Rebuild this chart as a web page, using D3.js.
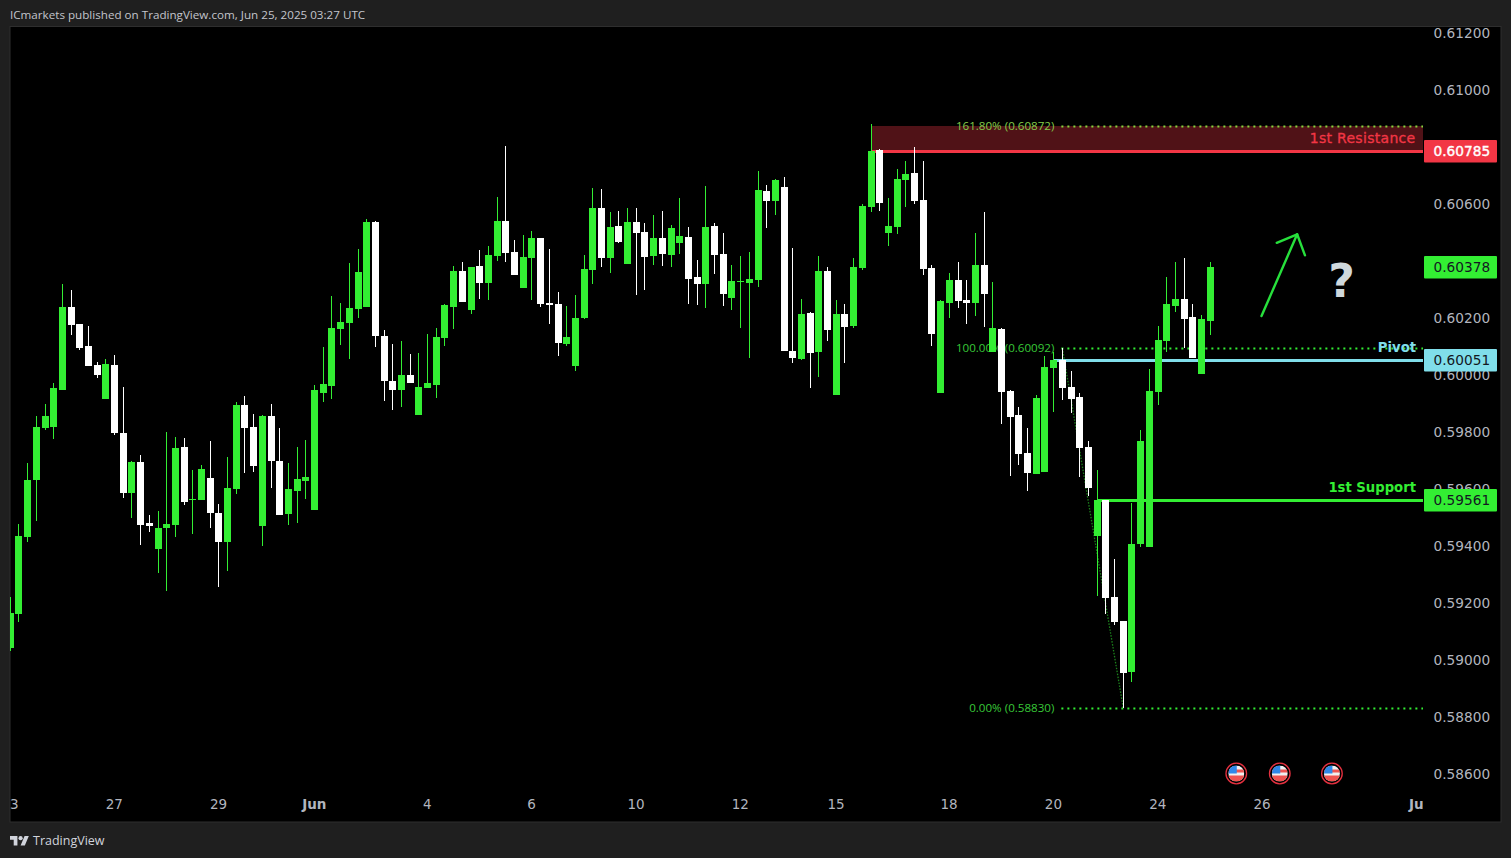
<!DOCTYPE html>
<html>
<head>
<meta charset="utf-8">
<script src="https://cdn.jsdelivr.net/npm/d3@7/dist/d3.min.js"></script>
<style>
html,body{margin:0;padding:0;background:#1f1f1f;overflow:hidden}
svg{display:block}
text{font-family:"DejaVu Sans",sans-serif}
</style>
</head>
<body>
<svg id="c" width="1511" height="858"></svg>
<script>
const opens=[0.59040,0.59160,0.59430,0.59630,0.59812,0.59816,0.59946,0.60237,0.60177,0.60100,0.60033,0.59914,0.60033,0.59795,0.59584,0.59693,0.59479,0.59388,0.59461,0.59472,0.59746,0.59560,0.59560,0.59637,0.59514,0.59412,0.59598,0.59893,0.59816,0.59468,0.59854,0.59696,0.59511,0.59591,0.59626,0.59525,0.59935,0.59960,0.60160,0.60181,0.60230,0.60237,0.60535,0.60135,0.59977,0.59946,0.59998,0.59858,0.59953,0.59963,0.60128,0.60237,0.60363,0.60226,0.60381,0.60321,0.60416,0.60539,0.60430,0.60304,0.60409,0.60479,0.60251,0.60247,0.60107,0.60030,0.60198,0.60367,0.60584,0.60409,0.60521,0.60388,0.60535,0.60500,0.60416,0.60479,0.60419,0.60461,0.60482,0.60342,0.60318,0.60521,0.60423,0.60268,0.60325,0.60321,0.60332,0.60644,0.60609,0.60658,0.60082,0.60054,0.60216,0.60079,0.60363,0.59928,0.60212,0.60170,0.60374,0.60588,0.60788,0.60496,0.60518,0.60682,0.60707,0.60612,0.60374,0.59935,0.60251,0.60332,0.60261,0.60251,0.60384,0.60079,0.60160,0.59942,0.59858,0.59725,0.59651,0.59658,0.60023,0.60051,0.59956,0.59921,0.59746,0.59433,0.59560,0.59219,0.59135,0.58956,0.59405,0.59395,0.59939,0.60118,0.60240,0.60265,0.60202,0.60002,0.60188];
const highs=[0.59219,0.59475,0.59689,0.59854,0.59896,0.59970,0.60318,0.60297,0.60177,0.60170,0.60044,0.60054,0.60068,0.59956,0.59696,0.59718,0.59507,0.59521,0.59798,0.59781,0.59777,0.59665,0.59682,0.59767,0.59546,0.59710,0.59904,0.59925,0.59861,0.59858,0.59896,0.59812,0.59689,0.59746,0.59770,0.59963,0.60096,0.60276,0.60251,0.60392,0.60440,0.60546,0.60539,0.60156,0.60107,0.60118,0.60072,0.60075,0.60142,0.60163,0.60247,0.60381,0.60395,0.60377,0.60437,0.60451,0.60623,0.60802,0.60472,0.60489,0.60503,0.60479,0.60440,0.60289,0.60240,0.60279,0.60419,0.60654,0.60651,0.60570,0.60574,0.60584,0.60584,0.60532,0.60560,0.60574,0.60525,0.60619,0.60518,0.60402,0.60661,0.60532,0.60496,0.60384,0.60416,0.60430,0.60714,0.60665,0.60686,0.60693,0.60444,0.60265,0.60219,0.60416,0.60377,0.60261,0.60247,0.60409,0.60598,0.60879,0.60791,0.60619,0.60721,0.60749,0.60798,0.60749,0.60384,0.60261,0.60356,0.60395,0.60332,0.60496,0.60570,0.60325,0.60163,0.59946,0.59886,0.59812,0.59928,0.60065,0.60079,0.60093,0.60012,0.59935,0.59767,0.59665,0.59560,0.59353,0.59135,0.59549,0.59805,0.60019,0.60170,0.60342,0.60395,0.60409,0.60247,0.60209,0.60395];
const lows=[0.59030,0.59132,0.59412,0.59486,0.59805,0.59774,0.59946,0.60139,0.60086,0.60030,0.59988,0.59914,0.59788,0.59567,0.59496,0.59402,0.59447,0.59303,0.59240,0.59430,0.59542,0.59440,0.59560,0.59461,0.59254,0.59310,0.59581,0.59654,0.59658,0.59398,0.59602,0.59507,0.59472,0.59479,0.59563,0.59525,0.59904,0.59914,0.60104,0.60054,0.60198,0.60237,0.60096,0.59907,0.59875,0.59886,0.59970,0.59858,0.59953,0.59918,0.60100,0.60160,0.60254,0.60212,0.60265,0.60261,0.60398,0.60395,0.60349,0.60304,0.60261,0.60237,0.60177,0.60065,0.60100,0.60012,0.60195,0.60318,0.60377,0.60356,0.60461,0.60388,0.60279,0.60297,0.60384,0.60381,0.60377,0.60423,0.60247,0.60244,0.60233,0.60353,0.60240,0.60226,0.60163,0.60058,0.60307,0.60514,0.60560,0.60082,0.60040,0.60051,0.59953,0.59991,0.60118,0.59928,0.60040,0.60163,0.60367,0.60570,0.60574,0.60451,0.60493,0.60588,0.60598,0.60349,0.60100,0.59935,0.60198,0.60233,0.60177,0.60205,0.60167,0.60079,0.59826,0.59644,0.59682,0.59591,0.59651,0.59658,0.59868,0.59911,0.59865,0.59640,0.59574,0.59223,0.59160,0.59121,0.58830,0.58921,0.59395,0.59395,0.59893,0.60079,0.60219,0.60093,0.60058,0.60002,0.60139];
const closes=[0.59163,0.59433,0.59630,0.59816,0.59854,0.59953,0.60237,0.60174,0.60093,0.60030,0.59998,0.60037,0.59795,0.59584,0.59693,0.59472,0.59468,0.59461,0.59475,0.59742,0.59553,0.59563,0.59668,0.59514,0.59412,0.59602,0.59893,0.59812,0.59679,0.59854,0.59696,0.59507,0.59598,0.59633,0.59640,0.59946,0.59967,0.60163,0.60184,0.60233,0.60360,0.60535,0.60135,0.59977,0.59946,0.59998,0.59970,0.59956,0.59970,0.60132,0.60244,0.60363,0.60254,0.60377,0.60321,0.60419,0.60539,0.60426,0.60349,0.60412,0.60479,0.60247,0.60244,0.60111,0.60132,0.60198,0.60370,0.60584,0.60409,0.60518,0.60465,0.60535,0.60496,0.60412,0.60479,0.60423,0.60514,0.60486,0.60335,0.60318,0.60518,0.60419,0.60283,0.60328,0.60328,0.60335,0.60647,0.60609,0.60682,0.60082,0.60058,0.60212,0.60075,0.60363,0.60156,0.60212,0.60167,0.60377,0.60591,0.60784,0.60602,0.60521,0.60686,0.60704,0.60609,0.60370,0.60142,0.60258,0.60332,0.60258,0.60251,0.60384,0.60283,0.60163,0.59939,0.59851,0.59721,0.59654,0.59918,0.60026,0.60051,0.59953,0.59914,0.59742,0.59602,0.59560,0.59216,0.59132,0.58953,0.59405,0.59767,0.59942,0.60121,0.60247,0.60265,0.60195,0.60058,0.60195,0.60378];

const priceTicks=[0.612,0.610,0.606,0.604,0.602,0.600,0.598,0.596,0.594,0.592,0.590,0.588,0.586];
const timeTickBars=[0,12,24,35,48,60,72,84,95,108,120,132,144,162];
const timeTickLabels=["23","27","29","Jun","4","6","10","12","15","18","20","24","26","Jul"];
const boldTimeLabels=["Jun","Jul"];

const resistance=0.60785, pivot=0.60051, support=0.59561, lastPrice=0.60378;
const resistanceStartBar=99, pivotStartBar=120, supportStartBar=125;
const fibLevels=[0.60872,0.60092,0.58830];
const fibLabels=["161.80% (0.60872)","100.00% (0.60092)","0.00% (0.58830)"];
const fibAnchorBars=[121,128];
const fibAnchorPrices=[0.60092,0.58830];
const arrowShaft=[[143.9,0.60205],[148.0,0.60492]];
const arrowHead=[[145.65,0.60462],[148.0,0.60492],[148.9,0.60418]];
const questionAt=[153.1,0.60272];
const eventBars=[141,146,152];
const eventPrice=0.58600;
const levelTexts=["1st Resistance","Pivot","1st Support"];

const GREEN="#33ee33",WHITE="#ffffff",RED="#f23645",CYAN="#80deea",GREY="#b2b5be",BG="#1f1f1f";
const L=10,R=1423,AX=1501,T=27,B=822;

const svg=d3.select("#c");
svg.append("rect").attr("width",1511).attr("height",858).attr("fill",BG);
svg.append("rect").attr("x",L).attr("y",T-0.5).attr("width",AX-L).attr("height",B-T+0.5).attr("fill","#000").attr("stroke","#2e2e2e");

const defs=svg.append("defs");
defs.append("clipPath").attr("id","plot").append("rect").attr("x",L).attr("y",T).attr("width",R-L).attr("height",B-T);
defs.append("clipPath").attr("id","flagClip").append("circle").attr("r",8);

const x=d3.scaleLinear().domain([0,162]).range([10.22,10.22+162*8.6955]);
const y=d3.scaleLinear().domain([0.612,0.586]).range([32.5,773.5]);

// headline
svg.append("text").attr("x",10).attr("y",19).attr("fill","#c3c5cc").style("font-family","'Open Sans'").style("font-size","11.65px").text("ICmarkets published on TradingView.com, Jun 25, 2025 03:27 UTC");

// price axis
const yAxis=d3.axisRight(y).tickValues(priceTicks).tickSize(0).tickPadding(0).tickFormat(d3.format(".5f"));
const gy=svg.append("g").attr("transform",`translate(1433.5,0.8)`).call(yAxis);
gy.select(".domain").remove();
gy.selectAll("text").attr("fill",GREY).style("font-size","13.7px").attr("dy","0.33em");

// plot layer
const plot=svg.append("g").attr("clip-path","url(#plot)");

// time axis
const xAxis=d3.axisBottom(x).tickValues(timeTickBars).tickSize(0).tickPadding(0).tickFormat((d,i)=>timeTickLabels[i]);
const gx=plot.append("g").attr("transform","translate(-0.8,799.5)").call(xAxis);
gx.select(".domain").remove();
gx.selectAll("text").attr("fill",GREY).attr("dy","0.71em").style("font-size","13.5px")
  .style("font-weight",function(){return boldTimeLabels.includes(this.textContent)?"700":"400"});

// resistance zone
plot.append("rect").attr("x",x(resistanceStartBar)).attr("y",y(fibLevels[0])).attr("width",R-x(resistanceStartBar))
  .attr("height",y(resistance)-y(fibLevels[0])).attr("fill",RED).attr("fill-opacity",0.33);

// level lines
[[resistance,resistanceStartBar,RED],[pivot,pivotStartBar,CYAN],[support,supportStartBar,GREEN]].forEach(([p,b,c])=>{
  plot.append("line").attr("x1",x(b)).attr("x2",R).attr("y1",Math.round(y(p))+0.5).attr("y2",Math.round(y(p))+0.5).attr("stroke",c).attr("stroke-width",3);
});

// fib lines
fibLevels.forEach((p,i)=>{
  plot.append("line").attr("x1",x(fibAnchorBars[0])-1).attr("x2",R).attr("y1",Math.round(y(p))+0.5).attr("y2",Math.round(y(p))+0.5)
    .attr("stroke",i==0?"#86d63f":GREEN).attr("stroke-width",2).attr("stroke-dasharray","2 4");
  plot.append("text").attr("x",x(fibAnchorBars[0])-8).attr("y",Math.round(y(p))).attr("dy","0.35em").attr("text-anchor","end")
    .attr("fill",i==0?"#86cc4a":"#38c838").style("font-family","'Open Sans'").style("font-size","11.6px").text(fibLabels[i]);
});
plot.append("line").attr("x1",x(fibAnchorBars[0])).attr("x2",x(fibAnchorBars[1])).attr("y1",y(fibAnchorPrices[0])).attr("y2",y(fibAnchorPrices[1]))
  .attr("stroke",GREEN).attr("stroke-opacity",0.55).attr("stroke-width",1.3).attr("stroke-dasharray","1.5 1.5");

// candles
const idx=d3.range(opens.length);
const col=i=>closes[i]>=opens[i]?GREEN:WHITE;
plot.append("g").selectAll("rect").data(idx).join("rect")
  .attr("x",i=>Math.floor(x(i))).attr("width",1)
  .attr("y",i=>Math.round(y(highs[i])))
  .attr("height",i=>Math.max(1,Math.round(y(lows[i]))-Math.round(y(highs[i]))))
  .attr("fill",col).attr("shape-rendering","crispEdges");
plot.append("g").selectAll("rect").data(idx).join("rect")
  .attr("x",i=>Math.floor(x(i))-3).attr("width",7)
  .attr("y",i=>Math.round(y(Math.max(opens[i],closes[i]))))
  .attr("height",i=>Math.max(1,Math.round(y(Math.min(opens[i],closes[i])))-Math.round(y(Math.max(opens[i],closes[i])))))
  .attr("fill",col).attr("shape-rendering","crispEdges");

// level texts
const tStyle=(s,c)=>s.attr("text-anchor","end").attr("fill",c).style("font-size","13.2px").style("font-weight","700");
tStyle(plot.append("text").attr("x",1415.5).attr("y",143),RED).style("font-weight","400").style("font-size","14px").style("letter-spacing","0.3px").attr("stroke",RED).attr("stroke-width",0.3).text(levelTexts[0]);
tStyle(plot.append("text").attr("x",1416).attr("y",352),CYAN).text(levelTexts[1]);
tStyle(plot.append("text").attr("x",1416).attr("y",492),GREEN).text(levelTexts[2]);

// arrow
const ln=d3.line().x(d=>x(d[0])).y(d=>y(d[1]));
[arrowShaft,arrowHead].forEach(a=>plot.append("path").attr("d",ln(a)).attr("fill","none").attr("stroke","#27e03c").attr("stroke-width",2.4).attr("stroke-linecap","round").attr("stroke-linejoin","round"));
plot.append("text").attr("x",x(questionAt[0])).attr("y",y(questionAt[1])).attr("text-anchor","middle").attr("fill","#cfd8dc")
  .style("font-size","46px").style("font-weight","700").text("?");

// event flags
const flag=plot.append("g").selectAll("g").data(eventBars).join("g").attr("transform",d=>`translate(${x(d)},${y(eventPrice)})`);
flag.append("circle").attr("r",10.3).attr("fill","#000").attr("stroke","#e5303f").attr("stroke-width",1.3);
const fi=flag.append("g").attr("clip-path","url(#flagClip)");
fi.append("rect").attr("x",-8).attr("y",-8).attr("width",16).attr("height",16).attr("fill","#f0f0f0");
fi.append("rect").attr("x",-8).attr("y",-4).attr("width",16).attr("height",3).attr("fill","#ef5350");
fi.append("rect").attr("x",-8).attr("y",2).attr("width",16).attr("height",6).attr("fill","#ef5350");
fi.append("rect").attr("x",-8).attr("y",-8).attr("width",8.5).attr("height",8).attr("fill","#2f88e8");

// price labels
[[resistance,RED,"#ffffff"],[lastPrice,GREEN,"#131722"],[pivot,CYAN,"#131722"],[support,GREEN,"#131722"]].forEach(([p,c,t])=>{
  const py=Math.round(y(p));
  svg.append("rect").attr("x",1424).attr("y",py-11).attr("width",73).attr("height",22.5).attr("rx",1).attr("fill",c);
  const lbl=svg.append("text").attr("x",1433.5).attr("y",py+0.5).attr("dy","0.36em").attr("fill",t)
     .style("font-size","13.7px").text(d3.format(".5f")(p));
  if(p===resistance) lbl.attr("stroke","#fff").attr("stroke-width",0.4);
});

// logo
const lg=svg.append("g").attr("transform","translate(10,833.9) scale(0.53)").attr("fill","#d1d4dc");
lg.append("path").attr("d","M14 22H7V11H0V4h14v18zM28 22h-8l7.5-18h8L28 22z");
lg.append("circle").attr("cx",20).attr("cy",8).attr("r",4);
svg.append("text").attr("x",33).attr("y",845).attr("fill","#d1d4dc").style("font-family","'Open Sans'").style("font-size","12.5px").text("TradingView");
</script>
</body>
</html>
